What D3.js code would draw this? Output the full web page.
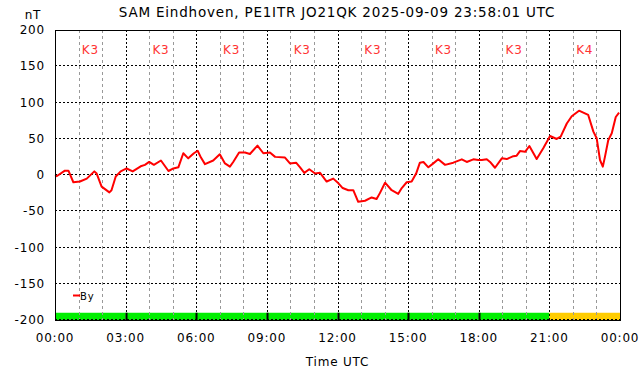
<!DOCTYPE html>
<html>
<head>
  <script src="https://d3js.org/d3.v7.min.js"></script>
  <style>
    body { margin: 0; background: #fff; font-family: "DejaVu Sans", sans-serif; }
    svg text { font-family: "DejaVu Sans", sans-serif; fill: #000; letter-spacing: 0.8px; }
  </style>
</head>
<body>
  <div id="chart"></div>
  <script>
    // time in hours UTC, By in nT
    const hours = [0.0, 0.1, 0.42, 0.57, 0.78, 1.06, 1.35, 1.67, 1.77, 1.98, 2.31, 2.4, 2.58, 2.79,
      3.04, 3.3, 3.64, 3.82, 4.0, 4.2, 4.5, 4.82, 5.03, 5.24, 5.45, 5.66, 5.9, 6.06, 6.2, 6.37,
      6.72, 7.0, 7.22, 7.43, 7.57, 7.82, 8.07, 8.28, 8.6, 8.85, 9.13, 9.35, 9.77, 9.98, 10.24,
      10.41, 10.59, 10.8, 11.05, 11.26, 11.54, 11.82, 12.04, 12.22, 12.46, 12.67, 12.88, 13.17,
      13.45, 13.66, 13.8, 14.02, 14.3, 14.58, 14.73, 14.94, 15.15, 15.34, 15.5, 15.65, 15.86,
      16.07, 16.28, 16.57, 16.92, 17.28, 17.49, 17.77, 17.98, 18.13, 18.34, 18.48, 18.69, 18.98,
      19.19, 19.47, 19.61, 19.75, 19.97, 20.15, 20.46, 20.74, 21.03, 21.31, 21.48, 21.74, 21.95,
      22.26, 22.51, 22.65, 22.87, 23.01, 23.15, 23.27, 23.36, 23.5, 23.65, 23.82, 23.96];
    const byValues = [-2, -1, 6, 6, -10, -9, -5, 5, 2, -16, -24, -21, -2, 5,
      9, 5, 12, 14, 18, 14, 20, 5.5, 9, 10.6, 30, 23, 30, 33.5, 24, 15,
      20, 28.5, 16, 11.5, 18, 31, 31, 29, 40.5, 30, 31, 25, 24, 16, 17,
      10.6, 3, 8, 2, 3, -9, -5, -11.5, -18, -21, -21, -37, -35.5,
      -31, -33, -25, -10.6, -21, -26, -18, -10, -9, 2, 17, 18, 10.6,
      16, 21.6, 14, 17, 21.6, 18, 21.6, 20.6, 20.7, 21.6, 18, 10, 23,
      22, 26, 26.7, 33, 32, 40, 22, 36.8, 53.8, 49.7, 52.9, 71, 81,
      88.7, 85, 82.8, 59.8, 50.6, 20.7, 11.5, 25, 48, 57.5, 80, 86];

    // K index per 3 hour block
    const kStart = [0, 3, 6, 9, 12, 15, 18, 21];
    const kValues = [3, 3, 3, 3, 3, 3, 3, 4];

    const yTicks = [-200, -150, -100, -50, 0, 50, 100, 150, 200];
    const xTicks = [0, 3, 6, 9, 12, 15, 18, 21, 24];
    const xTickLabels = ["00:00", "03:00", "06:00", "09:00", "12:00", "15:00", "18:00", "21:00", "00:00"];

    const margin = {top: 30, right: 22, bottom: 56, left: 55};
    const W = 642, H = 376;
    const width = W - margin.left - margin.right;
    const height = H - margin.top - margin.bottom;

    const svg = d3.select("#chart").append("svg")
      .attr("width", W).attr("height", H);

    const g = svg.append("g")
      .attr("transform", `translate(${margin.left},${margin.top})`);

    const x = d3.scaleLinear().domain([0, 24]).range([0, width]);
    const y = d3.scaleLinear().domain([-200, 200]).range([height, 0]);

    // K index bars at the bottom
    const kColor = k => k >= 4 ? "#ffcc00" : "#00ee00";
    g.selectAll(".kbar")
      .data(kStart)
      .enter().append("rect")
        .attr("x", (d) => x(d))
        .attr("y", y(-190))
        .attr("width", x(3) - x(0))
        .attr("height", y(-200) - y(-190))
        .attr("fill", (d, i) => kColor(kValues[i]));

    // minor hourly grid
    const hourGrid = d3.range(1, 24).filter(h => h % 3 !== 0);
    g.selectAll(".minor")
      .data(hourGrid)
      .enter().append("line")
        .attr("x1", d => Math.round(x(d)) + 0.5).attr("x2", d => Math.round(x(d)) + 0.5)
        .attr("y1", 0).attr("y2", height)
        .attr("stroke", "#999").attr("stroke-dasharray", "3,3");

    // major grid
    g.selectAll(".vmajor")
      .data(xTicks.slice(1, -1))
      .enter().append("line")
        .attr("x1", d => Math.round(x(d)) + 0.5).attr("x2", d => Math.round(x(d)) + 0.5)
        .attr("y1", 0).attr("y2", height)
        .attr("stroke", "#000").attr("stroke-dasharray", "2,2");

    g.selectAll(".hmajor")
      .data(yTicks.slice(0, -1))
      .enter().append("line")
        .attr("x1", 0).attr("x2", width)
        .attr("y1", d => Math.round(y(d)) - 0.5).attr("y2", d => Math.round(y(d)) - 0.5)
        .attr("stroke", "#000").attr("stroke-dasharray", "2,2");

    // solid separators between equal K blocks
    g.selectAll(".ksep")
      .data(kStart.filter((d, i) => i > 0 && kValues[i] === kValues[i - 1]))
      .enter().append("line")
        .attr("x1", d => Math.round(x(d)) + 0.5).attr("x2", d => Math.round(x(d)) + 0.5)
        .attr("y1", y(-190)).attr("y2", height)
        .attr("stroke", "#000").attr("stroke-width", 2);

    // K labels
    g.selectAll(".klabel")
      .data(kStart)
      .enter().append("text")
        .attr("x", d => x(d + 1.5))
        .attr("y", 24)
        .attr("text-anchor", "middle")
        .style("font-size", "12px")
        .style("fill", "#ff3333")
        .text((d, i) => "K" + kValues[i]);

    // By line
    const line = d3.line()
      .x(d => x(d[0]))
      .y(d => y(d[1]));
    g.append("path")
      .datum(hours.map((h, i) => [h, byValues[i]]))
      .attr("d", line)
      .attr("fill", "none")
      .attr("stroke", "#ff0000")
      .attr("stroke-width", 2)
      .attr("stroke-linejoin", "round");

    // frame
    g.append("rect")
      .attr("x", 0.5).attr("y", 0.5)
      .attr("width", width).attr("height", height)
      .attr("fill", "none").attr("stroke", "#000");

    // axes
    g.selectAll(".ytick")
      .data(yTicks)
      .enter().append("text")
        .attr("x", -10)
        .attr("y", d => y(d))
        .attr("dy", "0.35em")
        .attr("text-anchor", "end")
        .style("font-size", "12px")
        .text(d => d);

    g.selectAll(".xtick")
      .data(xTicks)
      .enter().append("text")
        .attr("x", d => x(d))
        .attr("y", height + 18)
        .attr("dy", "0.35em")
        .attr("text-anchor", "middle")
        .style("font-size", "12px")
        .text((d, i) => xTickLabels[i]);

    // legend
    g.append("line")
      .attr("x1", 18).attr("x2", 25)
      .attr("y1", 265.5).attr("y2", 265.5)
      .attr("stroke", "#ff0000").attr("stroke-width", 2);
    g.append("text")
      .attr("x", 25).attr("y", 266)
      .attr("dy", "0.35em")
      .style("font-size", "10px")
      .text("By");

    // titles
    svg.append("text")
      .attr("x", 337).attr("y", 17)
      .attr("text-anchor", "middle")
      .style("font-size", "13.5px")
      .text("SAM Eindhoven, PE1ITR JO21QK 2025-09-09 23:58:01 UTC");

    svg.append("text")
      .attr("x", 33).attr("y", 19)
      .attr("text-anchor", "middle")
      .style("font-size", "12px")
      .text("nT");

    svg.append("text")
      .attr("x", margin.left + width / 2).attr("y", 366)
      .attr("text-anchor", "middle")
      .style("font-size", "12px")
      .text("Time UTC");
  </script>
</body>
</html>
